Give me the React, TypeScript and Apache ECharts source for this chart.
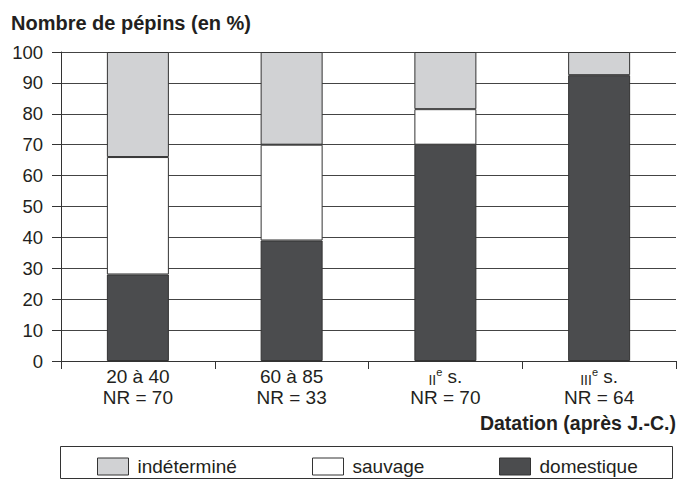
import React, { useEffect, useRef } from "react";
import * as echarts from "echarts";

const periods = ["20 à 40", "60 à 85", "II|e s.", "III|e s."];
const nrCounts = [70, 33, 70, 64];
const domestique = [28, 39, 70, 92.5];
const sauvage = [38, 31, 11.5, 0];
const indetermine = [34, 30, 18.5, 7.5];
const yTicks = [0, 10, 20, 30, 40, 50, 60, 70, 80, 90, 100];

const FONT = "'Liberation Sans', Arial, Helvetica, sans-serif";
const INK = "#231f20";
const EDGE = "#333333";

function labelFor(value: string, index: number): string {
  let first: string;
  if (value.includes("|")) {
    const [sc, rest] = value.split("|");
    const sup = rest.charAt(0);
    const tail = rest.slice(1);
    first = `{sc|${sc}}{sup|${sup}}{n|${tail}}`;
  } else {
    first = `{n|${value}}`;
  }
  return `${first}\n{n|NR = ${nrCounts[index]}}`;
}

const skipZero = (arr: number[]) => arr.map((v) => (v === 0 ? null : v));

export default function App() {
  const ref = useRef<HTMLDivElement>(null);
  useEffect(() => {
    if (!ref.current) return;
    const chart = echarts.init(ref.current, null, { renderer: "svg" });
    const barStyle = { borderColor: EDGE, borderWidth: 1 };
    const legendCommon = {
      icon: "rect",
      itemWidth: 31,
      itemHeight: 17,
      top: 452,
      selectedMode: false,
      itemStyle: { borderColor: EDGE, borderWidth: 1 },
      textStyle: { fontFamily: FONT, fontSize: 19, color: INK, padding: [0, 0, 0, 4] },
    };
    chart.setOption({
      animation: false,
      backgroundColor: "#ffffff",
      textStyle: { fontFamily: FONT },
      title: [
        {
          text: "Nombre de pépins (en %)",
          left: 11,
          top: 13,
          padding: 0,
          textStyle: { fontFamily: FONT, fontSize: 20, fontWeight: "bold", color: INK, lineHeight: 20 },
        },
        {
          text: "Datation (après J.-C.)",
          right: 1,
          top: 413,
          padding: 0,
          textStyle: { fontFamily: FONT, fontSize: 19.5, fontWeight: "bold", color: INK, lineHeight: 20 },
        },
      ],
      grid: { left: 61, right: 1, top: 52, bottom: 119, containLabel: false },
      xAxis: {
        type: "category",
        data: periods,
        boundaryGap: true,
        axisLine: { show: true, lineStyle: { color: EDGE, width: 1 } },
        axisTick: { show: true, length: 8, lineStyle: { color: EDGE } },
        axisLabel: {
          interval: 0,
          margin: 5,
          color: INK,
          formatter: labelFor,
          rich: {
            n: { fontFamily: FONT, fontSize: 19, lineHeight: 21, color: INK },
            sc: { fontFamily: FONT, fontSize: 14, lineHeight: 18, verticalAlign: "bottom", color: INK },
            sup: { fontFamily: FONT, fontSize: 11, lineHeight: 12, verticalAlign: "top", color: INK },
          },
        },
      },
      yAxis: {
        type: "value",
        min: yTicks[0],
        max: yTicks[yTicks.length - 1],
        interval: 10,
        axisLine: { show: true, lineStyle: { color: EDGE, width: 1 } },
        axisTick: { show: true, length: 9, lineStyle: { color: EDGE } },
        axisLabel: { margin: 18, fontFamily: FONT, fontSize: 18.5, color: INK },
        splitLine: { show: true, lineStyle: { color: "#444444", width: 1 } },
      },
      legend: [
        { ...legendCommon, left: 92, data: ["indéterminé"] },
        { ...legendCommon, left: 307, data: ["sauvage"] },
        { ...legendCommon, left: 494, data: ["domestique"] },
      ],
      graphic: [
        {
          type: "rect",
          shape: { x: 60.5, y: 446.5, width: 612, height: 32 },
          style: { fill: "none", stroke: EDGE, lineWidth: 1 },
          silent: true,
        },
      ],
      series: [
        {
          name: "domestique",
          type: "bar",
          stack: "total",
          barWidth: 62,
          data: skipZero(domestique),
          itemStyle: { color: "#4b4c4e", ...barStyle },
        },
        {
          name: "sauvage",
          type: "bar",
          stack: "total",
          barWidth: 62,
          data: skipZero(sauvage),
          itemStyle: { color: "#ffffff", ...barStyle },
        },
        {
          name: "indéterminé",
          type: "bar",
          stack: "total",
          barWidth: 62,
          data: skipZero(indetermine),
          itemStyle: { color: "#d1d2d4", ...barStyle },
        },
      ],
    });
    return () => chart.dispose();
  }, []);
  return (
    <div
      ref={ref}
      style={{ position: "fixed", left: 0, top: 0, width: 677, height: 480, background: "#fff" }}
    />
  );
}
